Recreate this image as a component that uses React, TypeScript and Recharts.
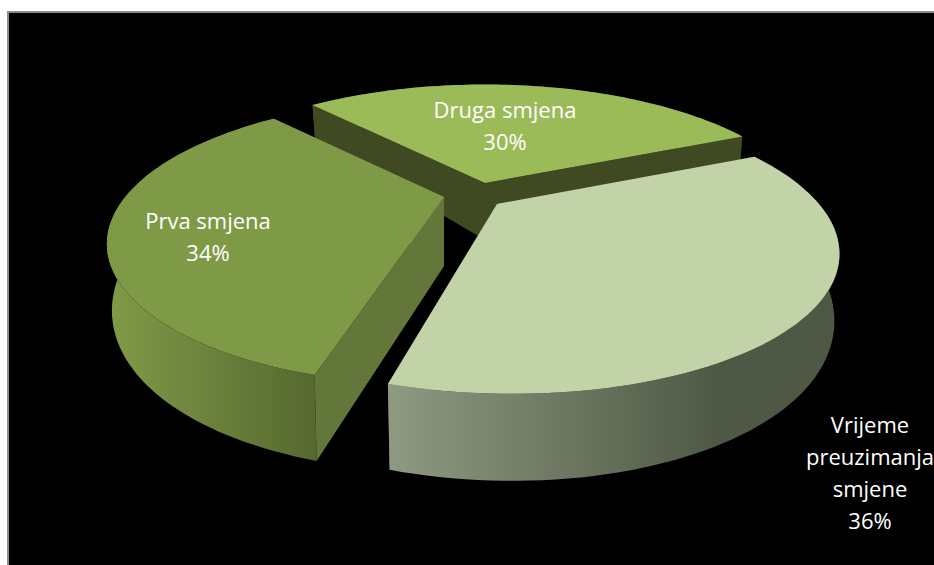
import { PieChart, Pie } from "recharts";

const categories = ["Druga smjena", "Vrijeme preuzimanja smjene", "Prva smjena"];
const shares = [30, 36, 34];
const labelLines = [["Druga smjena"], ["Vrijeme", "preuzimanja", "smjene"], ["Prva smjena"]];

const tableData = categories.map((name, i) => ({ name, value: shares[i] }));

// look of each slice, same order as categories
const sliceStyles = [
  { top: "#9bbb59", face: "#3f4a22", wallFrom: "#4a5729", wallTo: "#3f4a22", dx: 15, dy: -12, shear: 0, scale: 0.985, apexDepth: 57, labelX: 505, labelY: 118 },
  { top: "#c3d3a8", face: "#4f5844", wallFrom: "#8f9a82", wallTo: "#4f5844", dx: 27, dy: 9, shear: 0.08, scale: 1, apexDepth: 60, labelX: 870, labelY: 433 },
  { top: "#7f9a47", face: "#64773a", wallFrom: "#7f9a47", wallTo: "#55672f", dx: -26, dy: 2, shear: -0.04, scale: 0.99, apexDepth: 69, labelX: 208, labelY: 229 },
];
const wallStops = [
  { x1: 315, x2: 740 },
  { x1: 387, x2: 720 },
  { x1: 110, x2: 320 },
];

const PERSPECTIVE = 0.31;
const FLATTEN = 131 / 322;

function project(cx: number, cy: number, r: number, angle: number, shear: number, lower: boolean) {
  const rad = (angle * Math.PI) / 180;
  const u = Math.cos(rad);
  const v = -Math.sin(rad);
  const w = 1 - PERSPECTIVE * v;
  const y = (r * FLATTEN * v) / w;
  const x = (r * u) / w + shear * y;
  if (!lower) return [cx + x, cy + y];
  return [cx + x * 0.985, cy + y + 57 + 30 * v];
}

function toPath(points: number[][]) {
  return "M" + points.map((p) => p[0].toFixed(1) + " " + p[1].toFixed(1)).join("L") + "Z";
}

function Slice3D(props: any) {
  const { cx, cy, outerRadius, startAngle, endAngle, index } = props;
  const st = sliceStyles[index];
  const ox = cx + st.dx;
  const oy = cy + st.dy;
  const r = outerRadius * st.scale;
  const topArc: number[][] = [];
  const lowArc: number[][] = [];
  const steps = 80;
  for (let i = 0; i <= steps; i++) {
    const a = startAngle + ((endAngle - startAngle) * i) / steps;
    topArc.push(project(ox, oy, r, a, st.shear, false));
    lowArc.push(project(ox, oy, r, a, st.shear, true));
  }
  const apex = [ox, oy];
  const apexLow = [ox, oy + st.apexDepth];
  const gradId = "wall" + index;
  return (
    <g>
      <defs>
        <linearGradient id={gradId} gradientUnits="userSpaceOnUse" x1={wallStops[index].x1} x2={wallStops[index].x2} y1={0} y2={0}>
          <stop offset="0%" stopColor={st.wallFrom} />
          <stop offset="100%" stopColor={st.wallTo} />
        </linearGradient>
      </defs>
      {/* painter's order: far cut face, rim, near cut face, top */}
      <path d={toPath([apex, topArc[steps], lowArc[steps], apexLow])} fill={st.face} />
      <path d={toPath([...topArc, ...[...lowArc].reverse()])} fill={`url(#${gradId})`} />
      <path d={toPath([apex, topArc[0], lowArc[0], apexLow])} fill={st.face} />
      <path d={toPath([apex, ...topArc])} fill={st.top} />
    </g>
  );
}

function SliceLabel(props: any) {
  const { index, percent } = props;
  const st = sliceStyles[index];
  const lines = [...labelLines[index], Math.round(percent * 100) + "%"];
  return (
    <text x={st.labelX} y={st.labelY} fill="#ffffff" textAnchor="middle" fontFamily="'Open Sans', sans-serif" fontSize={22}>
      {lines.map((line, i) => (
        <tspan key={i} x={st.labelX} dy={i === 0 ? 0 : 32}>
          {line}
        </tspan>
      ))}
    </text>
  );
}

export default function App() {
  return (
    <div style={{ position: "absolute", left: 0, top: 0, width: 934, height: 565, overflow: "hidden", background: "#ffffff" }}>
      <div style={{ position: "absolute", left: 7, top: 11, width: 927, height: 554, boxSizing: "border-box", background: "#000000", borderLeft: "2px solid #8c8c8c", borderTop: "2px solid #8c8c8c" }} />
      <PieChart width={934} height={565} style={{ position: "absolute", left: 0, top: 0 }}>
        <Pie
          data={tableData}
          dataKey="value"
          nameKey="name"
          cx={465}
          cy={190}
          outerRadius={322}
          startAngle={132}
          endAngle={-228}
          stroke="none"
          shape={Slice3D}
          label={SliceLabel}
          labelLine={false}
          isAnimationActive={false}
        />
      </PieChart>
    </div>
  );
}
